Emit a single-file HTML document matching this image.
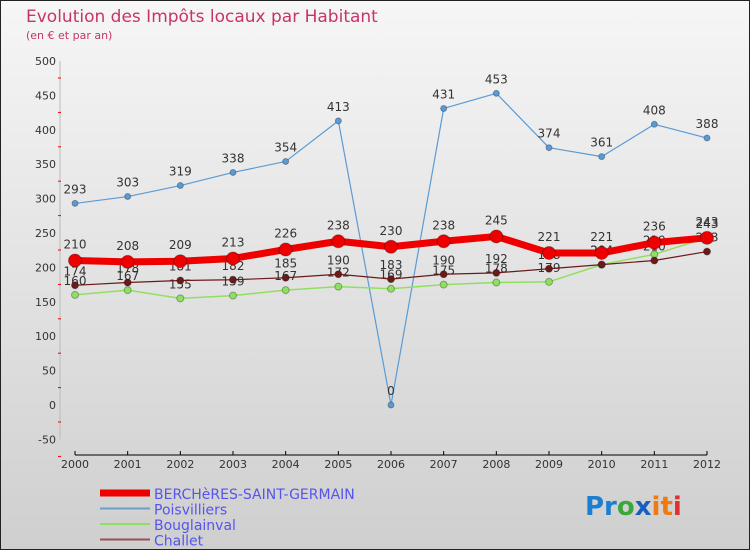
<!DOCTYPE html>
<html><head><meta charset="utf-8"><style>
body{margin:0;width:750px;height:550px;overflow:hidden;font-family:"DejaVu Sans","Liberation Sans",sans-serif;}
</style></head><body>
<svg width="750" height="550" xmlns="http://www.w3.org/2000/svg">
<defs><linearGradient id="bg" x1="0" y1="0" x2="0" y2="1"><stop offset="0" stop-color="#f6f6f6"/><stop offset="1" stop-color="#cfcfcf"/></linearGradient></defs>
<rect x="0.5" y="0.5" width="749" height="549" fill="url(#bg)" stroke="#222"/>
<text x="26" y="22" font-size="17" fill="#c8336b">Evolution des Impôts locaux par Habitant</text>
<text x="26" y="39" font-size="11" fill="#c8336b">(en € et par an)</text>
<g id="axes"></g><g id="series"></g><g id="legend"></g>
<text x="585" y="515" font-size="26" font-weight="bold"><tspan fill="#1a7fd0">Pr</tspan><tspan fill="#3aa83a">o</tspan><tspan fill="#1a5fc0">x</tspan><tspan fill="#f07a10">it</tspan><tspan fill="#e03030">i</tspan></text>
</svg>
<script>
const years=["2000","2001","2002","2003","2004","2005","2006","2007","2008","2009","2010","2011","2012"];
const yTicks=[-50,0,50,100,150,200,250,300,350,400,450,500];
const bercheres=[210,208,209,213,226,238,230,238,245,221,221,236,243];
const poisvilliers=[293,303,319,338,354,413,0,431,453,374,361,408,388];
const bouglainval=[160,167,155,159,167,172,169,175,178,179,204,219,243];
const challet=[174,178,181,182,185,190,183,190,192,198,204,210,223];
const NS="http://www.w3.org/2000/svg";
const xs=i=>75+i*(707-75)/12;
const ys=v=>405-v*344/500;
function mk(t,a,p){const e=document.createElementNS(NS,t);for(const k in a)e.setAttribute(k,a[k]);p.appendChild(e);return e;}
const ax=document.getElementById('axes');
mk('line',{x1:60,y1:ys(500),x2:60,y2:ys(-50),stroke:'#bbb'},ax);
yTicks.forEach(v=>{const t=mk('text',{x:56,y:ys(v)+4,'font-size':11,'text-anchor':'end',fill:'#333'},ax);t.textContent=v;


mk('line',{x1:58,y1:ys(v)+17,x2:61,y2:ys(v)+17,stroke:'#e00'},ax);});
const xl=mk('line',{x1:75,y1:455,x2:707,y2:455,stroke:'#000'},ax);


years.forEach((y,i)=>{mk('line',{x1:xs(i),y1:451,x2:xs(i),y2:455,stroke:'#000'},ax);
const t=mk('text',{x:xs(i),y:468,'font-size':11,'text-anchor':'middle',fill:'#333'},ax);t.textContent=y;

});
const sg=document.getElementById('series');
function series(d,name,color,w,r,labels,dy){
const g=mk('g',{},sg);


mk('polyline',{points:d.map((v,i)=>xs(i)+','+ys(v)).join(' '),fill:'none',stroke:color,'stroke-width':w,'stroke-linejoin':'round'},g);
d.forEach((v,i)=>{const c=mk('circle',{cx:xs(i),cy:ys(v),r:r,fill:color,stroke:'rgba(0,0,0,0.3)'},g);


if(labels){const t=mk('text',{x:xs(i),y:ys(v)+dy,'font-size':12,'text-anchor':'middle',fill:'#333'},g);t.textContent=v;

}});}
series(poisvilliers,'poisvilliers','#5b9bd5',1.2,3,true,-10);
series(bouglainval,'bouglainval','#90e060',1.5,3.5,true,-10);
series(challet,'challet','#6b1a1a',1.2,3.5,true,-10);
series(bercheres,'bercheres','#ee0000',7,6.5,true,-12);
const lg=document.getElementById('legend');
const items=[["BERCHèRES-SAINT-GERMAIN","#ee0000",7],["Poisvilliers","#6a9fc8",2],["Bouglainval","#90e060",2],["Challet","#9a5050",2]];
items.forEach((it,i)=>{const y=493+i*15.5;
mk('line',{x1:100,y1:y,x2:150,y2:y,stroke:it[1],'stroke-width':it[2]},lg);
const t=mk('text',{x:154,y:y+6,'font-size':14,fill:'#5555ee'},lg);t.textContent=it[0];

});
</script>
</body></html>
